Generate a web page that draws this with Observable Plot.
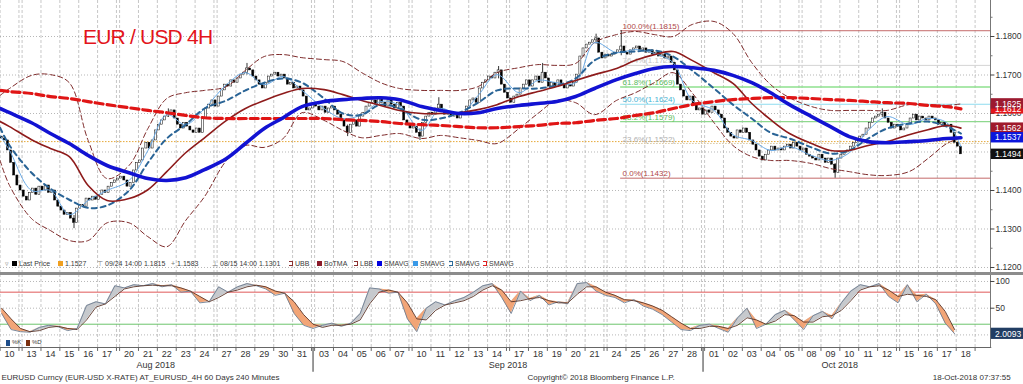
<!DOCTYPE html>
<html>
<head>
<meta charset="utf-8">
<script src="https://cdn.jsdelivr.net/npm/d3@7"></script>
<script src="https://cdn.jsdelivr.net/npm/@observablehq/plot@0.6"></script>
<style>
  html,body{margin:0;padding:0;background:#fff;}
  #wrap{position:relative;width:1023px;height:384px;overflow:hidden;font-family:"Liberation Sans",Arial,sans-serif;background:#fff;}
  #wrap svg{display:block;}
  #sep{height:3px;background:#8c8c8c;}
  #title{position:absolute;left:83px;top:26px;font-size:21px;line-height:1;letter-spacing:-0.8px;color:#e3141b;white-space:nowrap;}
  .lg{position:absolute;font-size:7px;line-height:9px;color:#3a3a3a;white-space:nowrap;display:flex;align-items:center;gap:2px;}
  .sq{display:inline-block;width:5px;height:5px;}
  .br{display:inline-block;width:4px;height:5px;border:1px dashed;border-left:none;box-sizing:border-box;}
</style>
</head>
<body>
<div id="wrap"></div>
<script>
// ---------------- DATA ----------------
const titleText = "EUR / USD 4H";
const augDays = ["10","13","14","15","16","17","20","21","22","23","24","27","28","29","30","31"];
const sepDays = ["03","04","05","06","07","10","11","12","13","14","17","18","19","20","21","24","25","26","27","28"];
const octDays = ["01","02","03","04","05","08","09","10","11","12","15","16","17","18"];
const monthLabels = ["Aug 2018","Sep 2018","Oct 2018"];
const priceTicks = ["1.1200","1.1300","1.1400","1.1500","1.1600","1.1700","1.1800"];
const stochTicks = ["50","100"];

// 4-hour closes (one per bar, Sunday bars included)
const closes = [
 1.1535,1.1530,1.1504,1.1472,1.1439,1.1413,1.1400,1.1384,1.1374,1.1394,
 1.1405,1.1389,1.1410,1.1400,1.1413,1.1394,1.1400,1.1374,1.1358,1.1348,
 1.1337,1.1342,1.1327,1.1316,1.1353,1.1363,1.1358,1.1379,1.1374,1.1384,
 1.1376,1.1389,1.1400,1.1394,1.1410,1.1420,1.1426,1.1431,1.1436,1.1426,
 1.1410,1.1420,1.1452,1.1472,1.1478,1.1509,1.1524,1.1509,1.1530,1.1556,
 1.1571,1.1582,1.1592,1.1602,1.1608,1.1587,1.1571,1.1561,1.1576,1.1566,
 1.1556,1.1550,1.1561,1.1550,1.1587,1.1613,1.1623,1.1634,1.1618,1.1644,
 1.1660,1.1675,1.1670,1.1686,1.1680,1.1691,1.1701,1.1706,1.1717,1.1712,
 1.1696,1.1686,1.1675,1.1665,1.1680,1.1696,1.1701,1.1706,1.1696,1.1701,
 1.1691,1.1675,1.1680,1.1665,1.1670,1.1660,1.1644,1.1608,1.1613,1.1623,
 1.1618,1.1608,1.1618,1.1602,1.1613,1.1618,1.1608,1.1597,1.1582,1.1566,
 1.1550,1.1571,1.1582,1.1566,1.1592,1.1602,1.1618,1.1628,1.1634,1.1623,
 1.1639,1.1628,1.1618,1.1634,1.1623,1.1613,1.1628,1.1618,1.1582,1.1571,
 1.1561,1.1566,1.1550,1.1540,1.1576,1.1592,1.1602,1.1597,1.1613,1.1623,
 1.1608,1.1597,1.1602,1.1592,1.1597,1.1587,1.1602,1.1597,1.1618,1.1634,
 1.1639,1.1628,1.1665,1.1680,1.1686,1.1696,1.1691,1.1706,1.1712,1.1675,
 1.1654,1.1639,1.1628,1.1644,1.1649,1.1665,1.1675,1.1686,1.1670,1.1686,
 1.1696,1.1680,1.1706,1.1691,1.1670,1.1680,1.1670,1.1686,1.1675,1.1665,
 1.1675,1.1670,1.1680,1.1701,1.1748,1.1769,1.1779,1.1784,1.1790,1.1795,
 1.1758,1.1743,1.1753,1.1748,1.1753,1.1758,1.1764,1.1774,1.1758,1.1753,
 1.1764,1.1769,1.1774,1.1764,1.1769,1.1758,1.1764,1.1753,1.1758,1.1748,
 1.1753,1.1743,1.1748,1.1732,1.1712,1.1675,1.1660,1.1644,1.1634,1.1644,
 1.1623,1.1608,1.1613,1.1597,1.1608,1.1602,1.1618,1.1608,1.1597,1.1587,
 1.1561,1.1550,1.1540,1.1535,1.1556,1.1550,1.1561,1.1550,1.1530,1.1519,
 1.1504,1.1488,1.1478,1.1493,1.1504,1.1514,1.1504,1.1509,1.1504,1.1514,
 1.1519,1.1509,1.1524,1.1514,1.1504,1.1509,1.1493,1.1488,1.1483,1.1478,
 1.1493,1.1483,1.1472,1.1483,1.1467,1.1446,1.1483,1.1493,1.1499,1.1504,
 1.1514,1.1524,1.1530,1.1540,1.1545,1.1561,1.1576,1.1587,1.1592,1.1597,
 1.1602,1.1587,1.1576,1.1561,1.1571,1.1566,1.1556,1.1561,1.1571,1.1587,
 1.1597,1.1582,1.1592,1.1587,1.1582,1.1592,1.1587,1.1582,1.1571,1.1576,
 1.1566,1.1571,1.1550,1.1524,1.1514,1.1494
];
const firstOpen = 1.1540;
// notable wicks
const wickSlots = [23, 53, 78, 110, 133, 139, 158, 172, 189, 197, 265, 280];
const wickLows  = [1.1301,1.1590,1.1700,1.1540,1.1530,1.1605,1.1690,1.1690,1.1780,1.1750,1.1432,1.1590];
const wickHighs = [1.1335,1.1612,1.1730,1.1570,1.1560,1.1641,1.1722,1.1730,1.1806,1.1815,1.1470,1.1612];

// indicators: one value at the left edge, one per day (Aug 10 – Oct 17), one at the last bar
const smaBlue = [1.1613,1.1602,1.1576,1.1548,1.1522,1.1491,1.1465,1.1446,1.1431,1.1426,1.1433,1.1454,1.1483,1.1522,1.1561,1.1589,1.1618,1.1631,1.1636,1.1639,1.1641,1.1636,1.1618,1.1608,1.1600,1.1602,1.1613,1.1621,1.1626,1.1631,1.1644,1.1665,1.1688,1.1704,1.1717,1.1722,1.1719,1.1712,1.1699,1.1680,1.1654,1.1623,1.1592,1.1566,1.1540,1.1527,1.1524,1.1527,1.1530,1.1535,1.1537];
const smaRed = [1.1660,1.1657,1.1652,1.1644,1.1639,1.1631,1.1623,1.1615,1.1608,1.1602,1.1595,1.1589,1.1587,1.1587,1.1587,1.1587,1.1587,1.1587,1.1584,1.1582,1.1579,1.1574,1.1571,1.1569,1.1566,1.1563,1.1563,1.1566,1.1569,1.1574,1.1576,1.1582,1.1587,1.1595,1.1602,1.1613,1.1623,1.1631,1.1636,1.1639,1.1641,1.1641,1.1639,1.1636,1.1634,1.1631,1.1628,1.1626,1.1621,1.1618,1.1612];
const boTMA = [1.1579,1.1566,1.1532,1.1509,1.1488,1.1413,1.1374,1.1379,1.1402,1.1449,1.1498,1.1537,1.1582,1.1613,1.1634,1.1652,1.1665,1.1662,1.1649,1.1634,1.1621,1.1608,1.1600,1.1600,1.1602,1.1610,1.1623,1.1644,1.1657,1.1670,1.1686,1.1701,1.1717,1.1738,1.1753,1.1761,1.1738,1.1706,1.1678,1.1626,1.1584,1.1548,1.1522,1.1504,1.1504,1.1517,1.1527,1.1545,1.1558,1.1569,1.1562];
const smaDash = [1.1563,1.1517,1.1446,1.1405,1.1376,1.1355,1.1361,1.1400,1.1472,1.1535,1.1571,1.1613,1.1634,1.1660,1.1680,1.1691,1.1680,1.1639,1.1600,1.1597,1.1623,1.1613,1.1584,1.1587,1.1602,1.1628,1.1660,1.1665,1.1665,1.1673,1.1691,1.1738,1.1758,1.1761,1.1764,1.1748,1.1712,1.1665,1.1623,1.1587,1.1550,1.1535,1.1512,1.1496,1.1504,1.1535,1.1561,1.1574,1.1579,1.1566,1.1548];
const smaFast = [1.1543,1.1504,1.1400,1.1400,1.1337,1.1374,1.1400,1.1426,1.1504,1.1597,1.1571,1.1613,1.1675,1.1706,1.1675,1.1696,1.1660,1.1613,1.1587,1.1597,1.1631,1.1621,1.1556,1.1613,1.1597,1.1647,1.1701,1.1654,1.1686,1.1680,1.1680,1.1784,1.1758,1.1766,1.1756,1.1732,1.1634,1.1608,1.1545,1.1530,1.1504,1.1514,1.1491,1.1478,1.1498,1.1556,1.1592,1.1571,1.1587,1.1576,1.1514];
const ubb = [1.1647,1.1665,1.1699,1.1701,1.1680,1.1530,1.1431,1.1465,1.1561,1.1639,1.1654,1.1660,1.1670,1.1712,1.1748,1.1753,1.1745,1.1740,1.1735,1.1706,1.1680,1.1665,1.1660,1.1660,1.1660,1.1670,1.1706,1.1719,1.1727,1.1725,1.1730,1.1784,1.1805,1.1813,1.1805,1.1800,1.1831,1.1839,1.1808,1.1732,1.1675,1.1641,1.1618,1.1608,1.1608,1.1608,1.1608,1.1623,1.1623,1.1621,1.1625];
const lbb = [1.1478,1.1413,1.1327,1.1296,1.1270,1.1270,1.1316,1.1316,1.1280,1.1254,1.1322,1.1384,1.1478,1.1517,1.1512,1.1535,1.1602,1.1582,1.1556,1.1537,1.1543,1.1548,1.1535,1.1543,1.1537,1.1530,1.1522,1.1561,1.1600,1.1634,1.1628,1.1597,1.1634,1.1654,1.1680,1.1706,1.1654,1.1576,1.1517,1.1488,1.1478,1.1478,1.1470,1.1457,1.1449,1.1441,1.1439,1.1449,1.1483,1.1522,1.1537];

const refLevel = 1.1527;
const fibRatios = ["100.0%","76.4%","61.8%","50.0%","38.2%","23.6%","0.0%"];
const fibValues = [1.1815,1.1725,1.1669,1.1624,1.1579,1.1522,1.1432];

const tagValues = [1.1612,1.1625,1.1562,1.1537,1.1494];
const tagColors = ["#e2161c","#9c1a30","#a01a2c","#0b16dc","#111111"];

// stochastics, one value every third bar
const stochK = [40,10,6,5,14,18,15,8,12,55, 62,58,92,88,94,92,96,90,94,80, 82,60,62,90,80,90,96,92,86,74, 78,40,18,12,18,22,16,22,40,88, 86,78,80,30,6,50,62,56,64,70, 80,92,96,70,40,82,64,74,56,62, 58,96,98,82,74,70,60,66,54,48, 38,24,10,8,18,20,12,5,32,50, 12,20,38,46,28,10,36,44,30,60, 82,94,90,96,72,60,94,62,76,58, 22,2];
const stochD = [50,30,12,6,8,14,16,12,10,28, 52,58,72,86,90,92,93,92,92,88, 82,72,62,70,80,84,90,93,90,82, 78,62,38,20,14,18,18,20,28,58, 80,84,80,60,30,28,46,56,60,64, 72,84,92,84,62,64,68,70,64,60, 60,76,90,90,80,74,66,64,60,54, 46,34,22,12,12,16,16,12,18,32, 28,20,26,38,36,24,24,34,36,46, 64,84,90,92,84,72,76,74,72,66, 44,10];
const stochLast = 2.0093;

const legendLabels = ["Last Price","1.1527","09/24 14:00 1.1815","1.1583","08/15 14:00 1.1301","UBB","BoTMA","LBB","SMAVG","SMAVG","SMAVG","SMAVG"];
const legendColors = ["#000000","#f0a020",null,null,null,"#8b3030","#8b1a2a","#8b3030","#0000e0","#3a9ae8","#2a6a9a","#e02020"];
const legendGlyphs = ["sq","sq","⊤","+","⊥","br","sq","br","sq","sq","br","br"];
const footerLeft = "EURUSD Curncy (EUR-USD X-RATE) AT_EURUSD_4H 60 Days 240 Minutes";
const footerMid = "Copyright© 2018 Bloomberg Finance L.P.";
const footerRight = "18-Oct-2018 07:37:55";

// ---------------- SCHEDULE (bar slots) ----------------
const days = [];
[augDays, sepDays, octDays].forEach((arr, m) => arr.forEach(label => days.push({label, m, date: new Date(2018, 7 + m, +label)})));
let slot = 0; const sundays = []; const monthSeps = [];
days.forEach((d, i) => {
  if (i > 0 && (d.date - days[i - 1].date) > 86400000 * 1.5) {
    sundays.push(slot);
    if (d.m !== days[i - 1].m) monthSeps.push(slot + 0.5);
    slot += 1;
  }
  d.start = slot; d.mid = slot + 3; slot += 6;
});
const endSlot = slot;
const vgrid = [...days.map(d => d.start), ...sundays, endSlot];
const indSlots = [0, ...days.slice(0, 49).map(d => d.mid), closes.length - 0.5];
const series = vals => indSlots.map((s, k) => ({s, v: vals[k]}));
const bars = closes.map((c, i) => ({i, o: i ? closes[i - 1] : firstOpen, c}));
const wicks = wickSlots.map((s, k) => ({s: s + 0.5, lo: wickLows[k], hi: wickHighs[k]}));
const fibData = fibRatios.map((r, k) => ({v: fibValues[k], label: `${r}(${fibValues[k].toFixed(4)})`, k}));
const fibLine = ["#c46a6a","#d4d4d4","#8ee08e","#8fdcef","#8ed88e","#d9c7a0","#c46a6a"];
const fibText = ["#b04848","#c4c4c4","#5cbc5c","#46b4d4","#5cbc5c","#b0b0b0","#b04848"];
const tagData = tagValues.map((v, k) => ({v, label: v.toFixed(4), bg: tagColors[k]}));
const stoch = stochK.map((k, j) => ({s: j * 3 + 0.5, k, d: stochD[j]}));
const monthData = monthLabels.map((t, m) => {
  const md = days.filter(d => d.m === m);
  return {t, x: (md[0].mid + md[md.length - 1].mid) / 2};
});

const X0 = 0.13, X1 = 314.9;
const FONT = "Liberation Sans, Arial, sans-serif";
const fibStart = 197.3;
const AXF = 8.5;

// ---------------- MAIN PANEL ----------------
const main = Plot.plot({
  width: 1023, height: 272, marginLeft: 0, marginRight: 33, marginTop: 0, marginBottom: 0,
  x: {domain: [X0, X1], axis: null},
  y: {domain: [1.118701, 1.189351], axis: null},
  color: {type: "identity"},
  style: {fontFamily: FONT, fontSize: "9px", background: "#fff", color: "#333"},
  marks: [
    Plot.ruleX(vgrid, {stroke: "#b9b9b9", strokeWidth: 0.8, strokeDasharray: "3,2"}),
    Plot.ruleY(priceTicks.map(Number), {x1: X0, x2: X1, stroke: "#a4a4a4", strokeWidth: 0.8, strokeDasharray: "1,2"}),
    Plot.ruleY([refLevel], {x1: X0, x2: X1, stroke: "#e6a838", strokeWidth: 1, strokeDasharray: "1.5,1.5"}),
    Plot.ruleY(fibData.filter(d => d.k !== 5), {x1: fibStart, x2: X1, y: "v", stroke: d => fibLine[d.k], strokeWidth: d => (d.k === 2 || d.k === 4) ? 1.4 : 1}),
    Plot.ruleY(fibData.filter(d => d.k === 5), {x1: fibStart, x2: X1, y: "v", stroke: d => fibLine[d.k], strokeDasharray: "1.5,1.5"}),
    Plot.text(fibData, {x: fibStart + 0.6, y: "v", text: "label", fill: d => fibText[d.k], dy: -4.5, textAnchor: "start", fontSize: 8}),
    // candles
    Plot.ruleX(wicks, {x: "s", y1: "lo", y2: "hi", stroke: "#000", strokeWidth: 0.8}),
    Plot.rect(bars, {x1: d => d.i + 0.18, x2: d => d.i + 0.82, y1: "o", y2: "c", fill: d => d.c < d.o ? "#000" : "#fff", stroke: "#000", strokeWidth: 0.5}),
    // bands & averages
    Plot.line(series(ubb), {x: "s", y: "v", curve: "catmull-rom", stroke: "#7e2a2a", strokeWidth: 1, strokeDasharray: "5,3", clip: true}),
    Plot.line(series(lbb), {x: "s", y: "v", curve: "catmull-rom", stroke: "#7e2a2a", strokeWidth: 1, strokeDasharray: "5,3", clip: true}),
    Plot.line(series(smaFast), {x: "s", y: "v", curve: "catmull-rom", stroke: "#6aaae6", strokeWidth: 1, clip: true}),
    Plot.line(series(smaDash), {x: "s", y: "v", curve: "catmull-rom", stroke: "#2a6496", strokeWidth: 2, strokeDasharray: "5,4", clip: true}),
    Plot.line(series(boTMA), {x: "s", y: "v", curve: "catmull-rom", stroke: "#8e1b1b", strokeWidth: 1.6, clip: true}),
    Plot.line(series(smaRed), {x: "s", y: "v", curve: "catmull-rom", stroke: "#e01515", strokeWidth: 3.2, strokeDasharray: "8,4", clip: true}),
    Plot.line(series(smaBlue), {x: "s", y: "v", curve: "catmull-rom", stroke: "#1212d2", strokeWidth: 3.6, clip: true}),
    // right axis
    Plot.ruleX([X1], {stroke: "#777", strokeWidth: 1}),
    Plot.ruleY(priceTicks.map(Number), {x1: X1, x2: X1 + 1.4, stroke: "#444"}),
    Plot.ruleY(priceTicks.map(d => +d + 0.005), {x1: X1, x2: X1 + 0.8, stroke: "#777"}),
    Plot.text(priceTicks, {x: X1, y: d => +d, text: d => d, dx: 5, textAnchor: "start", fill: "#333", fontSize: AXF}),
    // value tags
    Plot.rect(tagData, {x1: X1 + 0.25, x2: 325.6, y1: d => d.v - 0.00135, y2: d => d.v + 0.00135, fill: "bg"}),
    Plot.text(tagData, {x: 320.5, y: "v", text: "label", fill: "#fff", fontSize: AXF})
  ]
});

// ---------------- STOCHASTIC PANEL ----------------
const lower = Plot.plot({
  width: 1023, height: 109, marginLeft: 0, marginRight: 33, marginTop: 0, marginBottom: 37,
  x: {domain: [X0, X1], axis: null},
  y: {domain: [-23.6, 111.2], axis: null},
  color: {type: "identity"},
  style: {fontFamily: FONT, fontSize: "9px", background: "#fff", color: "#333", overflow: "visible"},
  marks: [
    Plot.ruleX(vgrid, {y1: -23.6, y2: 111.2, stroke: "#b9b9b9", strokeWidth: 0.8, strokeDasharray: "3,2"}),
    Plot.ruleY([0, 50, 100], {x1: X0, x2: X1, stroke: "#a4a4a4", strokeWidth: 0.8, strokeDasharray: "1,2"}),
    Plot.ruleY([80], {x1: X0, x2: X1, stroke: "#e05858", strokeWidth: 1}),
    Plot.ruleY([20], {x1: X0, x2: X1, stroke: "#6cc46c", strokeWidth: 1}),
    Plot.areaY(stoch, {x: "s", y1: "d", y2: d => Math.max(d.k, d.d), fill: "#c6c9cd"}),
    Plot.areaY(stoch, {x: "s", y1: "k", y2: d => Math.max(d.k, d.d), fill: "#f2a577"}),
    Plot.line(stoch, {x: "s", y: "k", stroke: "#6e7e92", strokeWidth: 0.9}),
    Plot.line(stoch, {x: "s", y: "d", stroke: "#5a3428", strokeWidth: 0.9}),
    // axes
    Plot.ruleX([X1], {y1: -23.6, y2: 111.2, stroke: "#777"}),
    Plot.ruleY([-23.6], {x1: X0, x2: X1 + 0.4, stroke: "#666"}),
    Plot.ruleX(vgrid, {y1: -23.6, y2: -31, stroke: "#666"}),
    Plot.ruleX(monthSeps, {y1: -23.6, y2: -70, stroke: "#555", strokeWidth: 1.2}),
    Plot.ruleY(stochTicks.map(Number), {x1: X1, x2: X1 + 1.4, stroke: "#444"}),
    Plot.text(stochTicks, {x: X1, y: d => +d, text: d => d, dx: 5, textAnchor: "start", fill: "#333", fontSize: AXF}),
    Plot.rect([stochLast], {x1: X1 + 0.25, x2: 325.6, y1: d => d - 10.5, y2: d => d + 10.5, fill: "#213d63"}),
    Plot.text([stochLast], {x: 320.5, y: d => d, text: d => d.toFixed(4), fill: "#fff", fontSize: AXF}),
    // date axis labels
    Plot.text(days, {x: "mid", text: "label", frameAnchor: "bottom", dy: 9, fill: "#333", fontSize: 9}),
    Plot.text(monthData, {x: "x", text: "t", frameAnchor: "bottom", dy: 20, fill: "#333", fontSize: 9}),
    Plot.text([footerLeft], {x: X0 + 0.3, text: d => d, frameAnchor: "bottom", dy: 32, textAnchor: "start", fill: "#333", fontSize: 8}),
    Plot.text([footerMid], {x: 167.7, text: d => d, frameAnchor: "bottom", dy: 32, textAnchor: "start", fill: "#333", fontSize: 8}),
    Plot.text([footerRight], {x: 321.3, text: d => d, frameAnchor: "bottom", dy: 32, textAnchor: "end", fill: "#333", fontSize: 8})
  ]
});

// ---------------- ASSEMBLE ----------------
const wrap = document.getElementById("wrap");
wrap.appendChild(main);
const sep = document.createElement("div"); sep.id = "sep"; wrap.appendChild(sep);
wrap.appendChild(lower);

const title = document.createElement("div");
title.id = "title"; title.textContent = titleText; wrap.appendChild(title);

// legend row (main panel)
const legendLeft = [12, 58, 97, 171, 212, 289, 317, 354, 377, 413, 449, 483];
const icon = document.createElement("div");
icon.className = "lg"; icon.style.left = "5px"; icon.style.top = "259px"; icon.style.color = "#888"; icon.textContent = "▿";
wrap.appendChild(icon);
legendLabels.forEach((t, k) => {
  const el = document.createElement("div");
  el.className = "lg"; el.style.left = legendLeft[k] + "px"; el.style.top = "259px";
  const g = legendGlyphs[k];
  const sw = document.createElement("span");
  if (g === "sq") { sw.className = "sq"; sw.style.background = legendColors[k]; }
  else if (g === "br") { sw.className = "br"; sw.style.borderColor = legendColors[k]; }
  else { sw.textContent = g; sw.style.color = "#777"; }
  el.appendChild(sw);
  const tx = document.createElement("span"); tx.textContent = t; el.appendChild(tx);
  wrap.appendChild(el);
});
// stochastic legend
[["%K", "#1f4e8a", 6], ["%D", "#7a3010", 26]].forEach(([t, c, x]) => {
  const el = document.createElement("div");
  el.className = "lg"; el.style.left = x + "px"; el.style.top = "338px"; el.style.fontSize = "6px";
  const sw = document.createElement("span"); sw.className = "sq"; sw.style.background = c; sw.style.height = "6px"; sw.style.width = "4px";
  el.appendChild(sw);
  const tx = document.createElement("span"); tx.textContent = t; el.appendChild(tx);
  wrap.appendChild(el);
});
</script>
</body>
</html>
